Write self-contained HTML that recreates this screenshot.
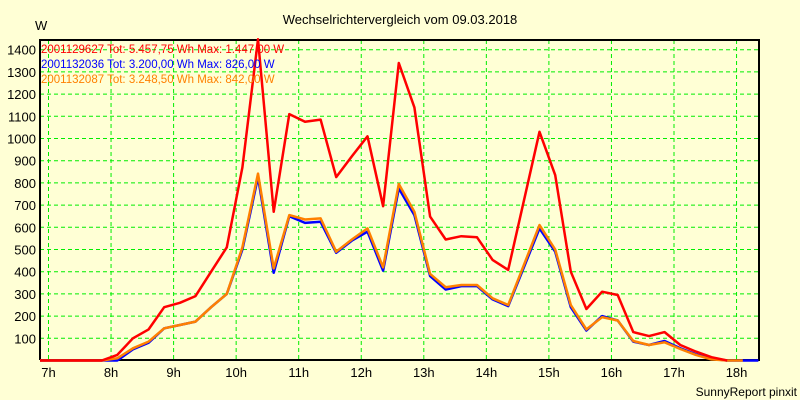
<!DOCTYPE html>
<html><head><meta charset="utf-8"><style>
html,body{margin:0;padding:0;background:#ffffd5;}
svg{display:block;font-family:"Liberation Sans",sans-serif;}
</style></head><body>
<svg id="chart" width="800" height="400" xmlns="http://www.w3.org/2000/svg">
<rect x="0" y="0" width="800" height="400" fill="#ffffd5"/>
<text x="400" y="24" text-anchor="middle" font-size="13" fill="#000">Wechselrichtervergleich vom 09.03.2018</text>
<text x="35" y="30" font-size="13" fill="#000">W</text>
<text x="797" y="396" text-anchor="end" font-size="12" fill="#000">SunnyReport pinxit</text>
<g id="grid"></g>
<g id="axes"></g>
<g id="series"></g>
<g id="legend">
<text x="41" y="53" font-size="11.5" fill="#ff0000">2001129627 Tot: 5.457,75 Wh Max: 1.447,00 W</text>
<text x="41" y="68" font-size="11.5" fill="#0000ff">2001132036 Tot: 3.200,00 Wh Max: 826,00 W</text>
<text x="41" y="83" font-size="11.5" fill="#ff8000">2001132087 Tot: 3.248,50 Wh Max: 842,00 W</text>
</g>
</svg>
<script>
const hourTicks = [7,8,9,10,11,12,13,14,15,16,17,18];
const yTicks = [100,200,300,400,500,600,700,800,900,1000,1100,1200,1300,1400];
const startTime = 7.85;
const stepHours = 0.25;
const redValues = [0,25,100,140,240,260,290,400,510,870,1447,670,1110,1075,1085,826,920,1010,695,1340,1140,648,545,560,555,453,408,720,1030,835,400,232,310,295,128,110,128,70,40,15,0,null,null];
const blueValues = [0,0,50,80,145,160,175,240,300,500,826,395,650,620,625,485,540,580,405,775,655,380,320,335,335,275,245,420,595,490,240,135,200,180,85,70,88,55,28,8,0,0,0];
const orangeValues = [0,10,55,85,145,160,175,240,300,510,842,415,655,635,640,490,545,595,420,795,670,390,330,340,340,280,250,430,610,500,250,140,195,180,88,70,82,52,25,5,0,0,null];

const NS = "http://www.w3.org/2000/svg";
const L = 40, R = 759, T = 40, B = 360;
function xScale(h){ return 48.5 + (h - 7) * 62.55; }
function yScale(v){ return 360.5 - v * 0.222; }
function mk(tag, attrs, parent){ const e = document.createElementNS(NS, tag); for (const k in attrs) e.setAttribute(k, attrs[k]); parent.appendChild(e); return e; }

const grid = document.getElementById('grid');
const axes = document.getElementById('axes');
const series = document.getElementById('series');
mk('rect',{x:L,y:T,width:R-L,height:B-T,fill:'#ffffd5'},grid);
yTicks.forEach(v=>{
  const y = yScale(v);
  const ln = mk('line',{x1:L,x2:R,y1:y,y2:y,stroke:'#00ee00','stroke-dasharray':'4,3','stroke-width':1},grid);
  
  
  const t = mk('text',{x:36,y:y+5,'text-anchor':'end','font-size':13,fill:'#000'},axes);
  t.textContent = v;
  
  
});
hourTicks.forEach(h=>{
  const x = xScale(h);
  const ln = mk('line',{x1:x,x2:x,y1:T,y2:B,stroke:'#00ee00','stroke-dasharray':'4,3','stroke-width':1},grid);
  
  
  const t = mk('text',{x:x,y:377,'text-anchor':'middle','font-size':13,fill:'#000'},axes);
  t.textContent = h + 'h';
  
  
});
const frame = mk('path',{d:`M${L},${B} L${L},${T} L${R},${T} L${R},${B} L${L},${B}`,fill:'none',stroke:'#000','stroke-width':2},axes);



function drawSeries(vals, color, name){
  let d = `M${L},${yScale(0)}`;
  vals.forEach((v,i)=>{ if (v === null) return; d += ` L${xScale(startTime + i*stepHours).toFixed(1)},${yScale(v).toFixed(1)}`; });
  const p = mk('path',{d:d,fill:'none',stroke:color,'stroke-width':2.5,'stroke-linejoin':'round'},series);
  
  
}
drawSeries(blueValues,'#0000ff','series-2001132036');
drawSeries(orangeValues,'#ff8000','series-2001132087');
drawSeries(redValues,'#ff0000','series-2001129627');
</script>
</body></html>
